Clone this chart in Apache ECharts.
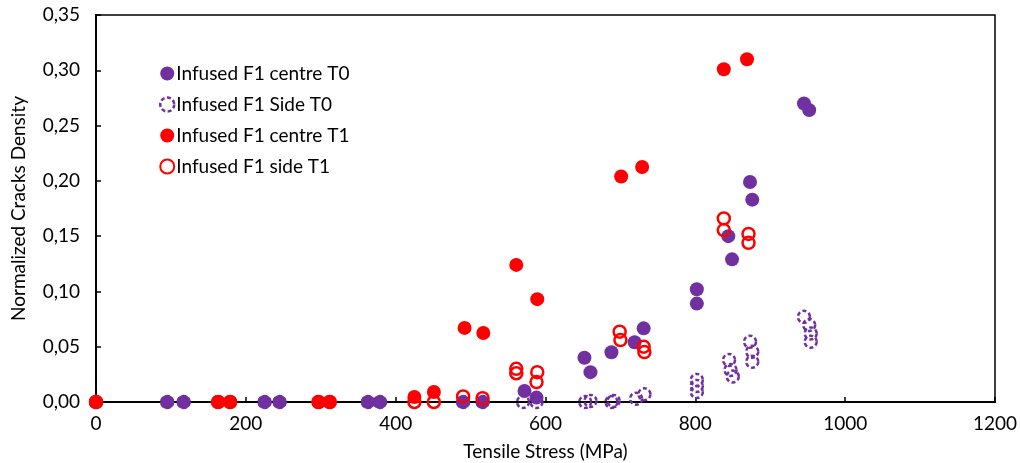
<!DOCTYPE html>
<html>
<head>
<meta charset="utf-8">
<script src="https://cdn.jsdelivr.net/npm/echarts@6/dist/echarts.min.js"></script>
<style>html,body{margin:0;padding:0;background:#fff;}#c{width:1020px;height:463px;}</style>
</head>
<body>
<div id="c"></div>
<script>
const seriesNames = ['Infused F1 centre T0', 'Infused F1 Side T0', 'Infused F1 centre T1', 'Infused F1 side T1'];
const xTicks = [0, 200, 400, 600, 800, 1000, 1200];
const yTicks = [0, 0.05, 0.10, 0.15, 0.20, 0.25, 0.30, 0.35];

const centreT0X = [0, 95, 117, 225, 245, 363, 379, 490, 516, 572, 588, 652, 660, 688, 719, 731, 802, 802, 844, 849, 873, 876, 945, 952];
const centreT0Y = [0, 0, 0, 0, 0, 0, 0, 0, 0, 0.0099, 0.004, 0.040, 0.027, 0.045, 0.054, 0.0666, 0.102, 0.089, 0.150, 0.129, 0.199, 0.183, 0.270, 0.264];

const sideT0X = [0, 95, 117, 225, 245, 363, 379, 490, 516, 570, 588, 653, 660, 688, 691, 721, 732, 802, 802, 802, 845, 847, 850, 873, 876, 876, 945, 952, 954, 954];
const sideT0Y = [0, 0, 0, 0, 0, 0, 0, 0, 0, 0, 0, 0, 0.001, 0, 0.001, 0.003, 0.007, 0.020, 0.0145, 0.009, 0.038, 0.029, 0.023, 0.0545, 0.0455, 0.0364, 0.077, 0.0696, 0.062, 0.0545];

const centreT1X = [0, 163, 179, 297, 312, 425, 451, 492, 517, 561, 589, 701, 729, 838, 869];
const centreT1Y = [0, 0, 0, 0, 0, 0.0045, 0.009, 0.067, 0.0624, 0.124, 0.093, 0.204, 0.2125, 0.301, 0.310];

const sideT1X = [0, 163, 179, 297, 312, 425, 451, 490, 516, 561, 561, 589, 588, 699, 700, 731, 732, 838, 838, 871, 871];
const sideT1Y = [0, 0, 0, 0, 0, 0, 0, 0.005, 0.0035, 0.030, 0.026, 0.027, 0.018, 0.0636, 0.056, 0.050, 0.0452, 0.166, 0.1555, 0.152, 0.144];

const PURPLE = '#7030A0';
const RED = '#FF0000';
const FONT = 'Lato';
const FS = 19;

function pairs(xs, ys) { return xs.map((x, i) => [x, ys[i]]); }

const chart = echarts.init(document.getElementById('c'));
chart.setOption({
  animation: false,
  textStyle: { fontFamily: FONT },
  grid: { left: 96, right: 25, top: 15, bottom: 61, containLabel: false, outerBoundsMode: 'none', show: true, borderColor: '#000', borderWidth: 1.5, backgroundColor: 'transparent' },
  legend: {
    orient: 'vertical', left: 154, top: 59, itemGap: 12, itemWidth: 14, itemHeight: 14,
    data: [
      { name: seriesNames[0] },
      { name: seriesNames[1], itemStyle: { color: 'rgba(255,255,255,0)', borderColor: PURPLE, borderWidth: 2.5, borderType: [4, 2.5] } },
      { name: seriesNames[2] },
      { name: seriesNames[3] }
    ],
    textStyle: { fontFamily: FONT, fontSize: FS, color: '#000', padding: [0, 0, 0, -3] }
  },
  xAxis: {
    type: 'value', min: xTicks[0], max: xTicks[xTicks.length - 1], interval: 200,
    name: 'Tensile Stress (MPa)', nameLocation: 'middle', nameGap: 40,
    nameTextStyle: { fontFamily: FONT, fontSize: FS, color: '#000' },
    axisLine: { show: true, lineStyle: { color: '#000', width: 2 } },
    axisTick: { show: true, inside: true, length: 5, lineStyle: { color: '#000', width: 1.5 } },
    axisLabel: { fontFamily: FONT, fontSize: FS, color: '#000', margin: 12, formatter: v => String(v) },
    splitLine: { show: false }
  },
  yAxis: {
    type: 'value', min: yTicks[0], max: yTicks[yTicks.length - 1], interval: 0.05,
    name: 'Normalized Cracks Density', nameLocation: 'middle', nameGap: 68, nameRotate: 90,
    nameTextStyle: { fontFamily: FONT, fontSize: FS, color: '#000' },
    axisLine: { show: true, lineStyle: { color: '#000', width: 2 } },
    axisTick: { show: true, inside: true, length: 5, lineStyle: { color: '#000', width: 1.5 } },
    axisLabel: { fontFamily: FONT, fontSize: FS, color: '#000', margin: 16, formatter: v => v.toFixed(2).replace('.', ',') },
    splitLine: { show: false }
  },
  series: [
    {
      name: seriesNames[0], type: 'scatter', symbol: 'circle', symbolSize: 14, z: 2,
      itemStyle: { color: PURPLE, opacity: 1 },
      data: pairs(centreT0X, centreT0Y)
    },
    {
      name: seriesNames[1], type: 'scatter', symbol: 'circle', symbolSize: 12, z: 3,
      itemStyle: { color: 'rgba(255,255,255,0)', borderColor: PURPLE, borderWidth: 2.5, borderType: [4, 2.5], opacity: 1 },
      data: pairs(sideT0X, sideT0Y)
    },
    {
      name: seriesNames[2], type: 'scatter', symbol: 'circle', symbolSize: 14, z: 5,
      itemStyle: { color: RED, opacity: 1 },
      data: pairs(centreT1X, centreT1Y)
    },
    {
      name: seriesNames[3], type: 'scatter', symbol: 'circle', symbolSize: 12, z: 4,
      itemStyle: { color: 'rgba(255,255,255,0)', borderColor: RED, borderWidth: 2.5, opacity: 1 },
      data: pairs(sideT1X, sideT1Y)
    }
  ]
});
</script>
</body>
</html>
